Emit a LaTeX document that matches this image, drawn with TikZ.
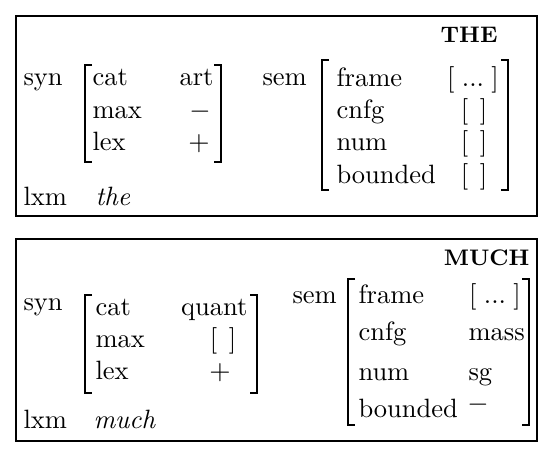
\documentclass[tikz,border=0pt]{standalone}
\usepackage{tikz}

\begin{document}
\begin{tikzpicture}[x=0.4pt, y=-0.4pt,
	every node/.style={inner sep=0pt, font=\fontsize{10.6}{12}\selectfont},
	attr/.style={anchor=base west},
	val/.style={anchor=base},
	head/.style={anchor=base east, font=\fontsize{9}{11}\selectfont\bfseries},
	brk/.style={line width=0.7pt},
	frm/.style={line width=0.45pt}]
	
	\useasboundingbox (0,0) rectangle (550,454);
	
	% ---------- THE ----------
	\draw[frm] (16,16) rectangle (537,216);
	\node[head] (theHead) at (498,42) {THE};
	
	% syn part
	\node[attr] (theSyn) at (23,85) {syn};
	\node[attr] (theCat) at (92,85) {cat};
	\node[anchor=base east] (theCatV) at (214,85) {art};
	\node[attr] (theMax) at (92,118) {max};
	\node[val] (theMaxV) at (200,118) {$-$};
	\node[attr] (theLex) at (92,150) {lex};
	\node[val] (theLexV) at (199,150) {$+$};
	\draw[brk] (92,65) -- (85,65) -- (85,162) -- (92,162);
	\draw[brk] (214,65) -- (221,65) -- (221,162) -- (214,162);
	
	\node[attr] (theLxm) at (23,205) {lxm};
	\node[attr] (theWord) at (95,205) {\itshape the};
	
	% sem part
	\node[attr] (theSem) at (262,85) {sem};
	\node[attr] (theFrame) at (336,86) {frame};
	\node[val] (theFrameV) at (473,86) {[\;...\;]};
	\node[attr] (theCnfg) at (336,118) {cnfg};
	\node[val] (theCnfgV) at (474,118) {[\;\,]};
	\node[attr] (theNum) at (336,150) {num};
	\node[val] (theNumV) at (474,150) {[\;\,]};
	\node[attr] (theBnd) at (336,183) {bounded};
	\node[val] (theBndV) at (474,183) {[\;\,]};
	\draw[brk] (329,60) -- (322,60) -- (322,190) -- (329,190);
	\draw[brk] (501,60) -- (508,60) -- (508,190) -- (501,190);
	
	% ---------- MUCH ----------
	\draw[frm] (16,239) rectangle (537,441);
	\node[head] (muchHead) at (530,265) {MUCH};
	
	% syn part
	\node[attr] (muchSyn) at (23,310) {syn};
	\node[attr] (muchCat) at (95,315) {cat};
	\node[anchor=base east] (muchCatV) at (248,315) {quant};
	\node[attr] (muchMax) at (95,347) {max};
	\node[val] (muchMaxV) at (223,347) {[\;\,]};
	\node[attr] (muchLex) at (95,379) {lex};
	\node[val] (muchLexV) at (220,379) {$+$};
	\draw[brk] (92,295) -- (85,295) -- (85,393) -- (92,393);
	\draw[brk] (250,295) -- (257,295) -- (257,393) -- (250,393);
	
	\node[attr] (muchLxm) at (23,428) {lxm};
	\node[attr] (muchWord) at (93,428) {\itshape much};
	
	% sem part
	\node[attr] (muchSem) at (292,303) {sem};
	\node[attr] (muchFrame) at (358,303) {frame};
	\node[val] (muchFrameV) at (495,303) {[\;...\;]};
	\node[attr] (muchCnfg) at (358,340) {cnfg};
	\node[attr] (muchCnfgV) at (468,340) {mass};
	\node[attr] (muchNum) at (358,380) {num};
	\node[attr] (muchNumV) at (468,380) {sg};
	\node[attr] (muchBnd) at (358,417) {bounded};
	\node[val] (muchBndV) at (478,411) {$-$};
	\draw[brk] (355,279) -- (348,279) -- (348,425) -- (355,425);
	\draw[brk] (522,279) -- (529,279) -- (529,425) -- (522,425);
	
\end{tikzpicture}
\end{document}
